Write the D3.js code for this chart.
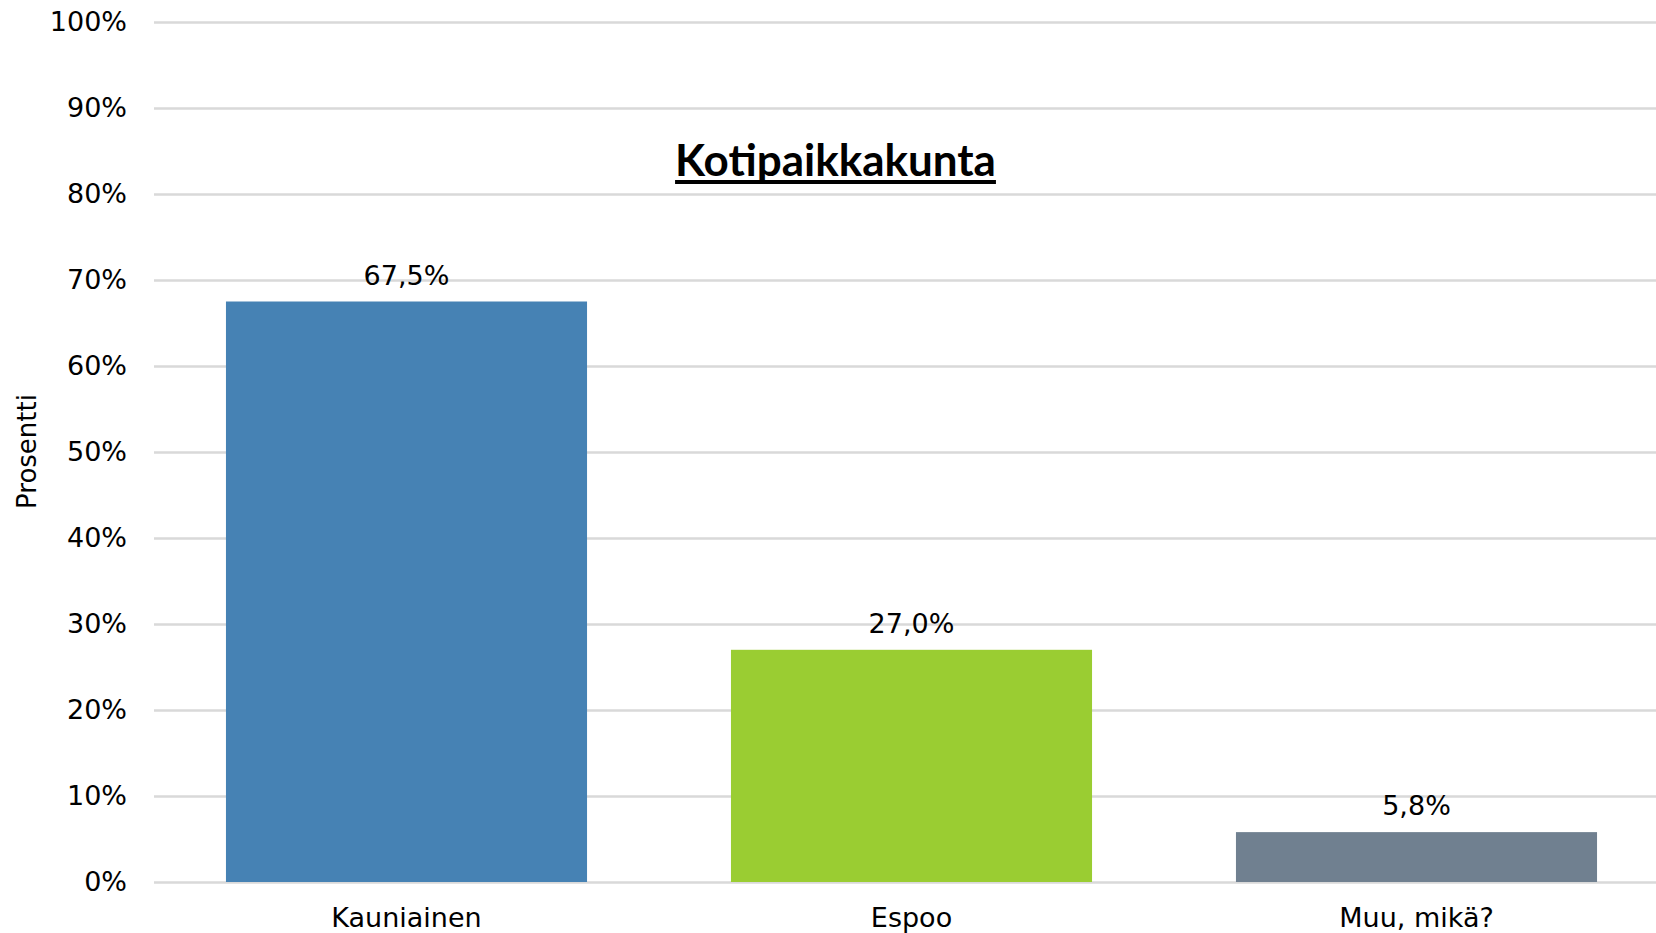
<!DOCTYPE html>
<html>
<head>
<meta charset="utf-8">
<script src="https://cdn.jsdelivr.net/npm/d3@7"></script>
<style>
html,body{margin:0;padding:0;background:#fff;}
svg{display:block;}
</style>
</head>
<body>
<svg id="chart" width="1656" height="933"></svg>
<script>
const categories = ["Kauniainen", "Espoo", "Muu, mikä?"];
const values = [67.5, 27.0, 5.8];
const colors = ["#4682B4", "#9ACD32", "#708090"];
const yTicks = [0, 10, 20, 30, 40, 50, 60, 70, 80, 90, 100];
const chartTitle = "Kotipaikkakunta";
const yTitle = "Prosentti";

(function () {
const svg = d3.select("#chart");
const W = 1656, H = 933;
const mLeft = 154, mTop = 22, mBottom = 882;
const fmt = v => v.toFixed(1).replace(".", ",") + "%";
const fs = 27;

const y = d3.scaleLinear().domain([0, 100]).range([mBottom, mTop]);
const x = d3.scaleBand().domain(categories).range([mLeft, 1669])
  .paddingInner(0.285).paddingOuter(0.1425);

const font = "Verdana, 'DejaVu Sans', sans-serif";

// y axis + gridlines
const yAxis = svg.append("g").attr("transform", `translate(${mLeft},0)`)
  .call(d3.axisLeft(y).tickValues(yTicks).tickFormat(d => d + "%")
    .tickSizeInner(-(W - mLeft)).tickSizeOuter(0).tickPadding(27));
yAxis.select(".domain").remove();
yAxis.selectAll(".tick line").attr("stroke", "#d9d9d9").attr("stroke-width", 2.5);
yAxis.selectAll(".tick text").attr("font-family", font).attr("font-size", fs).attr("fill", "#000");

// bars
svg.append("g").selectAll("rect").data(values).join("rect")
  .attr("x", (d, i) => x(categories[i]))
  .attr("width", x.bandwidth())
  .attr("y", d => y(d))
  .attr("height", d => y(0) - y(d))
  .attr("fill", (d, i) => colors[i]);

// value labels
svg.append("g").selectAll("text").data(values).join("text")
  .attr("x", (d, i) => x(categories[i]) + x.bandwidth() / 2)
  .attr("y", d => y(d) - 17)
  .attr("text-anchor", "middle")
  .attr("font-family", font).attr("font-size", fs).attr("fill", "#000")
  .text(d => fmt(d));

// x axis
const xAxis = svg.append("g").attr("transform", `translate(0,${mBottom})`)
  .call(d3.axisBottom(x).tickSize(0).tickPadding(26));
xAxis.select(".domain").remove();
xAxis.selectAll(".tick text").attr("font-family", font).attr("font-size", fs).attr("fill", "#000");

// y title
svg.append("text")
  .attr("transform", "translate(36,451.5) rotate(-90)")
  .attr("text-anchor", "middle")
  .attr("font-family", font).attr("font-size", 26).attr("fill", "#000")
  .text(yTitle);

// chart title
const t = svg.append("text")
  .attr("x", 835.5).attr("y", 176)
  .attr("text-anchor", "middle")
  .attr("font-family", "Lato, 'Open Sans', sans-serif")
  .attr("font-weight", "bold")
  .attr("font-size", 44).attr("fill", "#000")
  .text(chartTitle);
const tw = t.node().getComputedTextLength();
t.attr("font-size", 44 * 321 / tw);
const tw2 = t.node().getComputedTextLength();
svg.append("rect").attr("x", 835.5 - tw2 / 2).attr("y", 180)
  .attr("width", tw2).attr("height", 4).attr("fill", "#000");
})();
</script>
</body>
</html>
